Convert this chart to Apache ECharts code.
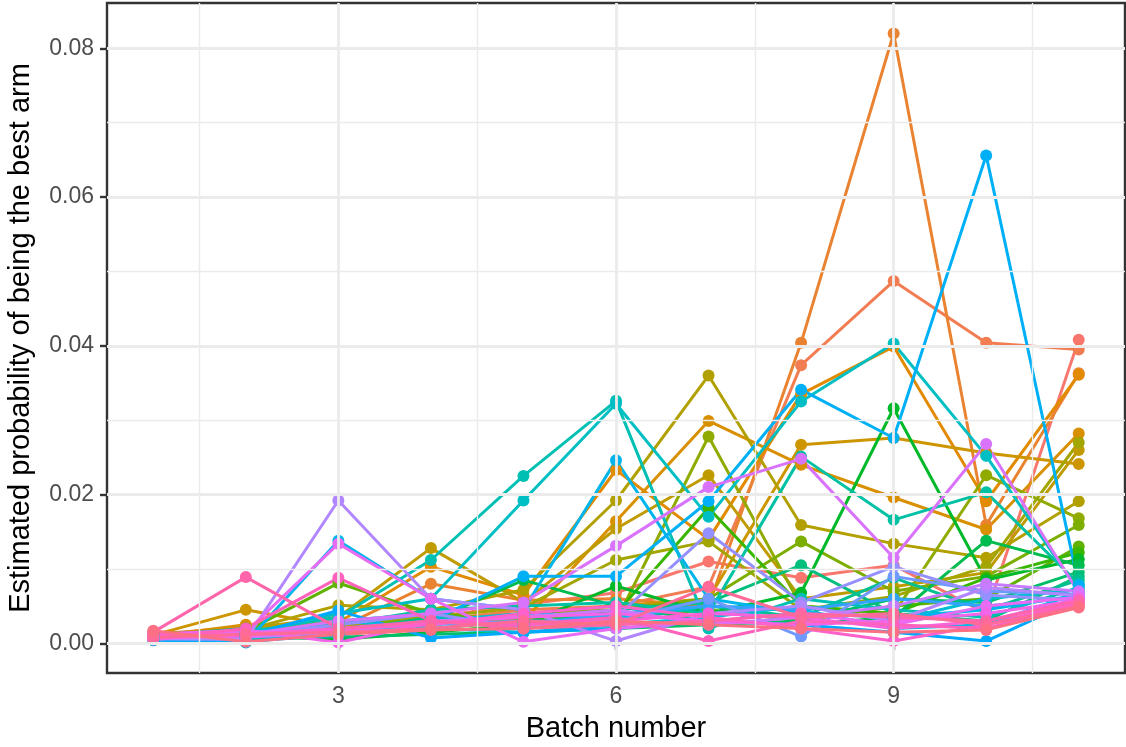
<!DOCTYPE html>
<html>
<head>
<meta charset="utf-8">
<script src="https://cdn.jsdelivr.net/npm/echarts@6/dist/echarts.min.js"></script>
<style>
  html, body { margin: 0; padding: 0; background: #ffffff; }
  #chart { width: 1126px; height: 747px; }
</style>
</head>
<body>
<div id="chart"></div>
<script>
// Batch index on the x axis
const batches = [1, 2, 3, 4, 5, 6, 7, 8, 9, 10, 11];

// Estimated probability of being the best arm, one array per arm, per batch
const arm01 = [0.0012, 0.0022, 0.0030, 0.0035, 0.0052, 0.0068, 0.0110, 0.0088, 0.0105, 0.0040, 0.0408];
const arm02 = [0.0008, 0.0015, 0.0024, 0.0030, 0.0045, 0.0050, 0.0076, 0.0374, 0.0487, 0.0404, 0.0395];
const arm03 = [0.0010, 0.0012, 0.0020, 0.0080, 0.0058, 0.0060, 0.0050, 0.0404, 0.0820, 0.0159, 0.0363];
const arm04 = [0.0006, 0.0018, 0.0028, 0.0103, 0.0065, 0.0233, 0.0140, 0.0335, 0.0399, 0.0191, 0.0361];
const arm05 = [0.0009, 0.0025, 0.0015, 0.0040, 0.0030, 0.0164, 0.0299, 0.0240, 0.0196, 0.0153, 0.0282];
const arm06 = [0.0011, 0.0045, 0.0022, 0.0030, 0.0040, 0.0050, 0.0060, 0.0267, 0.0276, 0.0256, 0.0241];
const arm07 = [0.0007, 0.0020, 0.0035, 0.0128, 0.0055, 0.0154, 0.0226, 0.0060, 0.0076, 0.0095, 0.0260];
const arm08 = [0.0013, 0.0018, 0.0051, 0.0045, 0.0072, 0.0192, 0.0360, 0.0159, 0.0134, 0.0115, 0.0191];
const arm09 = [0.0005, 0.0010, 0.0025, 0.0035, 0.0048, 0.0112, 0.0137, 0.0045, 0.0063, 0.0103, 0.0270];
const arm10 = [0.0010, 0.0014, 0.0018, 0.0025, 0.0035, 0.0030, 0.0278, 0.0050, 0.0040, 0.0226, 0.0168];
const arm11 = [0.0006, 0.0012, 0.0030, 0.0028, 0.0040, 0.0045, 0.0060, 0.0137, 0.0070, 0.0090, 0.0159];
const arm12 = [0.0009, 0.0016, 0.0081, 0.0040, 0.0030, 0.0035, 0.0045, 0.0030, 0.0050, 0.0060, 0.0130];
const arm13 = [0.0004, 0.0008, 0.0012, 0.0020, 0.0030, 0.0040, 0.0182, 0.0050, 0.0040, 0.0088, 0.0122];
const arm14 = [0.0012, 0.0010, 0.0005, 0.0015, 0.0025, 0.0077, 0.0040, 0.0068, 0.0316, 0.0085, 0.0113];
const arm15 = [0.0007, 0.0012, 0.0020, 0.0030, 0.0085, 0.0050, 0.0030, 0.0025, 0.0035, 0.0138, 0.0105];
const arm16 = [0.0005, 0.0006, 0.0008, 0.0012, 0.0015, 0.0020, 0.0025, 0.0030, 0.0060, 0.0055, 0.0096];
const arm17 = [0.0010, 0.0020, 0.0015, 0.0035, 0.0025, 0.0045, 0.0055, 0.0105, 0.0040, 0.0030, 0.0090];
const arm18 = [0.0006, 0.0009, 0.0030, 0.0040, 0.0020, 0.0030, 0.0050, 0.0035, 0.0088, 0.0045, 0.0085];
const arm19 = [0.0008, 0.0012, 0.0025, 0.0045, 0.0050, 0.0055, 0.0040, 0.0251, 0.0166, 0.0203, 0.0080];
const arm20 = [0.0010, 0.0015, 0.0035, 0.0112, 0.0225, 0.0326, 0.0020, 0.0060, 0.0045, 0.0035, 0.0075];
const arm21 = [0.0007, 0.0012, 0.0040, 0.0060, 0.0192, 0.0322, 0.0170, 0.0325, 0.0403, 0.0252, 0.0070];
const arm22 = [0.0009, 0.0011, 0.0030, 0.0020, 0.0015, 0.0025, 0.0035, 0.0050, 0.0030, 0.0060, 0.0072];
const arm23 = [0.0005, 0.0008, 0.0010, 0.0030, 0.0040, 0.0035, 0.0050, 0.0045, 0.0020, 0.0025, 0.0068];
const arm24 = [0.0006, 0.0001, 0.0138, 0.0060, 0.0045, 0.0246, 0.0060, 0.0040, 0.0035, 0.0045, 0.0065];
const arm25 = [0.0004, 0.0002, 0.0012, 0.0030, 0.0090, 0.0090, 0.0191, 0.0341, 0.0276, 0.0656, 0.0078];
const arm26 = [0.0008, 0.0010, 0.0044, 0.0007, 0.0015, 0.0020, 0.0030, 0.0025, 0.0015, 0.0003, 0.0060];
const arm27 = [0.0005, 0.0012, 0.0020, 0.0030, 0.0025, 0.0040, 0.0050, 0.0045, 0.0060, 0.0050, 0.0062];
const arm28 = [0.0007, 0.0015, 0.0018, 0.0025, 0.0030, 0.0030, 0.0060, 0.0009, 0.0090, 0.0070, 0.0066];
const arm29 = [0.0009, 0.0010, 0.0025, 0.0040, 0.0020, 0.0035, 0.0148, 0.0055, 0.0103, 0.0065, 0.0058];
const arm30 = [0.0006, 0.0005, 0.0192, 0.0060, 0.0045, 0.0003, 0.0040, 0.0050, 0.0030, 0.0075, 0.0064];
const arm31 = [0.0010, 0.0008, 0.0015, 0.0030, 0.0035, 0.0045, 0.0025, 0.0035, 0.0050, 0.0080, 0.0070];
const arm32 = [0.0008, 0.0012, 0.0030, 0.0040, 0.0055, 0.0131, 0.0210, 0.0248, 0.0115, 0.0268, 0.0068];
const arm33 = [0.0005, 0.0015, 0.0134, 0.0060, 0.0002, 0.0020, 0.0030, 0.0040, 0.0025, 0.0050, 0.0062];
const arm34 = [0.0012, 0.0018, 0.0001, 0.0028, 0.0035, 0.0040, 0.0030, 0.0025, 0.0030, 0.0040, 0.0058];
const arm35 = [0.0007, 0.0010, 0.0018, 0.0030, 0.0025, 0.0030, 0.0040, 0.0035, 0.0020, 0.0030, 0.0060];
const arm36 = [0.0010, 0.0012, 0.0020, 0.0025, 0.0040, 0.0050, 0.0035, 0.0020, 0.0003, 0.0025, 0.0055];
const arm37 = [0.0006, 0.0020, 0.0088, 0.0030, 0.0025, 0.0035, 0.0003, 0.0030, 0.0025, 0.0020, 0.0052];
const arm38 = [0.0015, 0.0089, 0.0020, 0.0030, 0.0020, 0.0025, 0.0030, 0.0040, 0.0035, 0.0030, 0.0057];
const arm39 = [0.0008, 0.0012, 0.0015, 0.0020, 0.0030, 0.0025, 0.0076, 0.0035, 0.0040, 0.0025, 0.0050];
const arm40 = [0.0017, 0.0002, 0.0012, 0.0018, 0.0020, 0.0030, 0.0025, 0.0020, 0.0015, 0.0018, 0.0048];

const arms = [arm01, arm02, arm03, arm04, arm05, arm06, arm07, arm08, arm09, arm10,
              arm11, arm12, arm13, arm14, arm15, arm16, arm17, arm18, arm19, arm20,
              arm21, arm22, arm23, arm24, arm25, arm26, arm27, arm28, arm29, arm30,
              arm31, arm32, arm33, arm34, arm35, arm36, arm37, arm38, arm39, arm40];

// Axis breaks
const xTicks = [3, 6, 9];
const xMinor = [1.5, 4.5, 7.5, 10.5];
const yTicks = [0, 0.02, 0.04, 0.06, 0.08];
const yMinor = [0.01, 0.03, 0.05, 0.07];

// Evenly spaced hues in polar CIELUV (L = 65, C = 100)
function hueColor(h) {
  const L = 65, C = 100, rad = h * Math.PI / 180;
  const U = C * Math.cos(rad), V = C * Math.sin(rad);
  const Y = 100 * Math.pow((L + 16) / 116, 3);
  const u = U / (13 * L) + 0.1978398;
  const v = V / (13 * L) + 0.4683363;
  const X = 9 * Y * u / (4 * v);
  const Z = -X / 3 - 5 * Y + 3 * Y / v;
  const gam = t => {
    t = Math.min(1, Math.max(0, t / 100));
    t = t > 0.00304 ? 1.055 * Math.pow(t, 1 / 2.4) - 0.055 : 12.92 * t;
    return Math.round(255 * Math.min(1, Math.max(0, t)));
  };
  const r = gam(3.240479 * X - 1.537150 * Y - 0.498535 * Z);
  const g = gam(-0.969256 * X + 1.875992 * Y + 0.041556 * Z);
  const b = gam(0.055648 * X - 0.204043 * Y + 1.057311 * Z);
  return 'rgb(' + r + ',' + g + ',' + b + ')';
}
const colors = arms.map((_, i) => hueColor((15 + 360 * i / arms.length) % 360));

// y range padded by 5% of the data span
let lo = Infinity, hi = -Infinity;
arms.forEach(a => a.forEach(v => { lo = Math.min(lo, v); hi = Math.max(hi, v); }));
const pad = (hi - lo) * 0.05;
const yMin = lo - pad, yMax = hi + pad;

const FONT = '"Liberation Sans", Arial, Helvetica, sans-serif';

const series = [];
// panel grid lines
function gridLines(xs, ys, width) {
  return {
    type: 'line', data: [[1, 0]], symbol: 'none', silent: true, z: 1,
    lineStyle: { opacity: 0 },
    markLine: {
      silent: true, symbol: ['none', 'none'], label: { show: false },
      emphasis: { disabled: true },
      lineStyle: { color: '#EBEBEB', width: width, type: 'solid' },
      data: xs.map(v => ({ xAxis: v })).concat(ys.map(v => ({ yAxis: v })))
    }
  };
}
series.push(gridLines(xMinor, yMinor, 1.4));
series.push(gridLines(xTicks, yTicks, 2.8));

// lines first, then points on top
arms.forEach((a, i) => {
  series.push({
    type: 'line', silent: true, z: 2, symbol: 'none', showSymbol: false,
    data: batches.map((b, k) => [b, a[k]]),
    lineStyle: { color: colors[i], width: 3 }
  });
});
arms.forEach((a, i) => {
  series.push({
    type: 'scatter', silent: true, z: 3, symbolSize: 12,
    data: batches.map((b, k) => [b, a[k]]),
    itemStyle: { color: colors[i], opacity: 1 }
  });
});

const chart = echarts.init(document.getElementById('chart'), null, { renderer: 'canvas' });
chart.setOption({
  animation: false,
  backgroundColor: '#ffffff',
  textStyle: { fontFamily: FONT },
  grid: {
    left: 107, right: 1, top: 3, bottom: 74,
    show: true, borderColor: '#333333', borderWidth: 2.4, backgroundColor: 'transparent',
    containLabel: false, outerBoundsMode: 'none'
  },
  xAxis: {
    type: 'value', min: 0.5, max: 11.5,
    name: 'Batch number', nameLocation: 'middle', nameGap: 41,
    nameTextStyle: { fontSize: 29, color: '#000000', fontFamily: FONT },
    axisLine: { show: false },
    splitLine: { show: false },
    axisTick: { show: true, customValues: xTicks, length: 7, lineStyle: { color: '#333333', width: 2.4 } },
    axisLabel: { customValues: xTicks, fontSize: 23, color: '#4D4D4D', margin: 12, fontFamily: FONT }
  },
  yAxis: {
    type: 'value', min: yMin, max: yMax,
    name: 'Estimated probability of being the best arm', nameLocation: 'middle', nameGap: 72,
    nameTextStyle: { fontSize: 29, color: '#000000', fontFamily: FONT },
    axisLine: { show: false },
    splitLine: { show: false },
    axisTick: { show: true, customValues: yTicks, length: 7, lineStyle: { color: '#333333', width: 2.4 } },
    axisLabel: { customValues: yTicks, fontSize: 23, color: '#4D4D4D', margin: 13, fontFamily: FONT,
                 formatter: v => v.toFixed(2) }
  },
  series: series
});
</script>
</body>
</html>
